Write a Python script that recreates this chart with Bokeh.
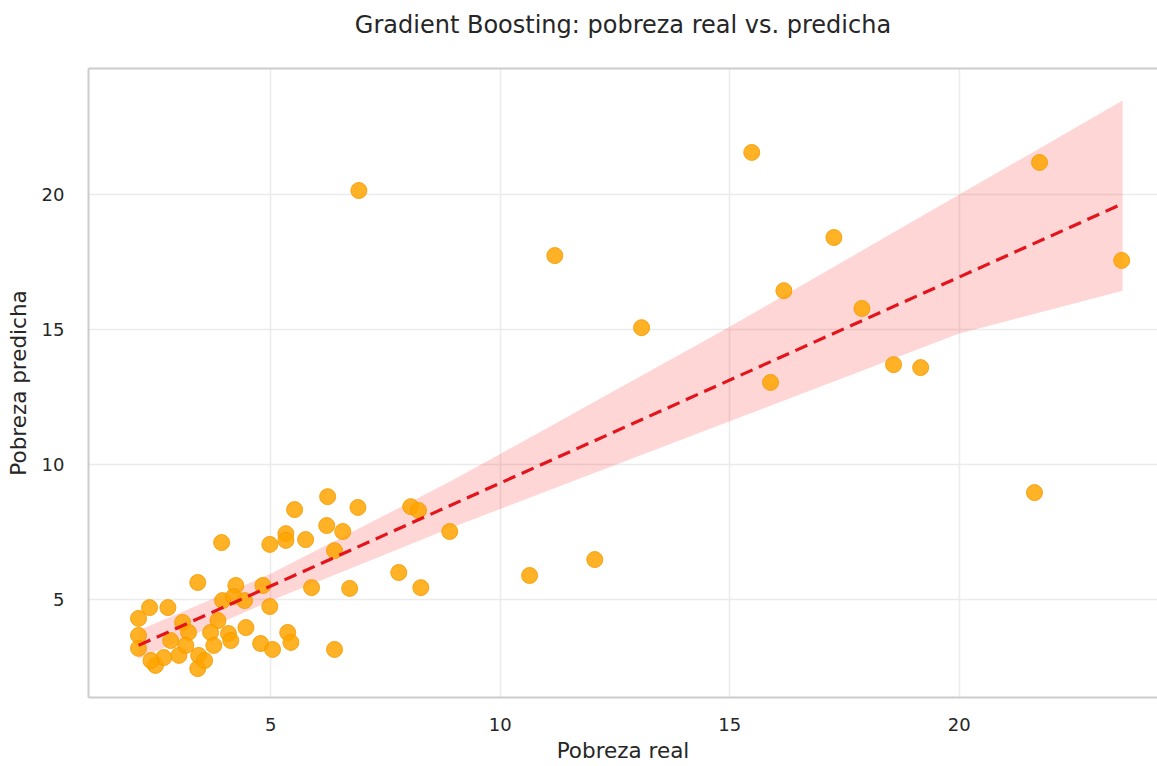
from bokeh.plotting import figure
from bokeh.models import Range1d, LinearAxis, FixedTicker
from bokeh.embed import file_html
from bokeh.resources import INLINE

x_real = [15.48, 21.75, 6.92, 11.19, 17.27, 16.18, 13.08, 17.88, 23.54, 18.57, 15.89, 19.16, 21.64,
          8.90, 8.05, 8.22, 10.64, 12.06, 7.79, 8.27, 6.72, 6.39,
          6.90, 6.24, 5.52, 6.22, 6.57, 5.76, 5.33, 5.33, 4.98, 3.93, 6.39,
          3.41, 5.89, 4.83, 4.24, 4.98, 4.43, 3.95, 4.19,
          2.36, 2.76, 2.12, 3.08, 3.85, 4.46,
          2.12, 3.21, 3.69, 4.08, 5.37, 5.44, 4.78, 5.04,
          2.12, 2.49, 2.67, 3.00, 3.43, 3.41, 3.76, 4.13, 2.82, 2.39, 3.15, 3.56]
y_pred = [21.56, 21.19, 20.15, 17.74, 18.41, 16.44, 15.07, 15.78, 17.56, 13.70, 13.04, 13.59, 8.96,
          7.52, 8.44, 8.30, 5.89, 6.48, 6.00, 5.44, 5.41, 3.15,
          8.41, 8.81, 8.33, 7.74, 7.52, 7.22, 7.44, 7.19, 7.04, 7.11, 6.81,
          5.63, 5.44, 5.52, 5.52, 4.74, 4.96, 4.96, 5.11,
          4.70, 4.70, 4.30, 4.15, 4.22, 3.96,
          3.67, 3.78, 3.78, 3.74, 3.78, 3.41, 3.37, 3.15,
          3.19, 2.56, 2.85, 2.93, 2.93, 2.44, 3.30, 3.48, 3.48, 2.74, 3.30, 2.74]

fit_x = [2.12, 23.56]
fit_y = [3.30, 19.66]

band_x = [2.12, 5.0, 9.0, 15.0, 20.0, 23.56]
band_lower = [2.80, 4.95, 7.70, 11.60, 14.85, 16.44]
band_upper = [3.85, 5.95, 9.45, 15.10, 20.00, 23.48]

ticks = [5, 10, 15, 20]
title_text = "Gradient Boosting: pobreza real vs. predicha"

FONT = "DejaVu Sans"
TXT = "#262626"
SPINE = "#cccccc"

p = figure(width=1157, height=766, output_backend="svg", toolbar_location=None,
           x_range=Range1d(1.03, 24.32), y_range=Range1d(1.37, 24.67),
           min_border_left=88, min_border_right=0, min_border_top=68, min_border_bottom=69,
           title=None)
p.outline_line_color = None
p.background_fill_color = "white"
p.border_fill_color = "white"

bottom_axis = p.below[0]
left_axis = p.left[0]

# top spine, carrying the chart title as its label
top_axis = LinearAxis(ticker=FixedTicker(ticks=[]), axis_line_color=SPINE, axis_line_width=2,
                      major_tick_line_color=None, minor_tick_line_color=None,
                      major_tick_out=0, major_tick_in=0, major_label_standoff=0,
                      axis_label=title_text, axis_label_standoff=30,
                      axis_label_text_font=FONT, axis_label_text_font_size="24px",
                      axis_label_text_font_style="normal", axis_label_text_color=TXT)
p.add_layout(top_axis, "above")

for ax in (bottom_axis, left_axis):
    ax.ticker = FixedTicker(ticks=ticks)
    ax.axis_line_color = SPINE
    ax.axis_line_width = 2
    ax.major_tick_line_color = None
    ax.minor_tick_line_color = None
    ax.major_label_text_font = FONT
    ax.major_label_text_font_size = "18px"
    ax.major_label_text_color = TXT
    ax.axis_label_text_font = FONT
    ax.axis_label_text_font_size = "21.5px"
    ax.axis_label_text_font_style = "normal"
    ax.axis_label_text_color = TXT

bottom_axis.axis_label = "Pobreza real"
left_axis.axis_label = "Pobreza predicha"
bottom_axis.major_label_standoff = 14
bottom_axis.axis_label_standoff = 4
left_axis.major_label_standoff = 18
left_axis.axis_label_standoff = 8

p.xgrid.ticker = FixedTicker(ticks=ticks)
p.ygrid.ticker = FixedTicker(ticks=ticks)
p.grid.grid_line_color = "#ebebeb"
p.grid.grid_line_width = 1.5

p.varea(x=band_x, y1=band_lower, y2=band_upper, fill_color="#ff0000", fill_alpha=0.16)

p.scatter(x=x_real, y=y_pred, size=16, fill_color="#ffa500", fill_alpha=0.85,
          line_color="#f39a00", line_alpha=0.85, line_width=1)

p.line(x=fit_x, y=fit_y, line_color="#e3141c", line_width=3.2, line_dash="13 7")

open("out.html", "w").write(file_html(p, INLINE))
